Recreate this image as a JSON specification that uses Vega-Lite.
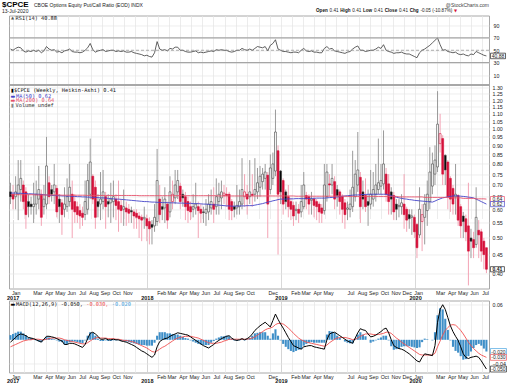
{
"$schema":"https://vega.github.io/schema/vega-lite/v6.json",
"background":"white",
"padding":{"left":1,"top":0.5,"right":0,"bottom":0},
"bounds":"flush",
"spacing":12,
"config":{"scale":{"continuousPadding":0},"view":{"stroke":"#a8a8a8","strokeWidth":1},"font":"Liberation Sans","axis":{"labelFont":"Liberation Sans","labelFontSize":5.3,"labelColor":"#222","domain":false,"ticks":false,"title":null,"gridColor":"#e6e6e6","gridWidth":0.7,"labelOverlap":false,"labelFlush":false}},
"datasets":{"w":[
{"date":"2016-12-26","open":0.67,"high":0.71,"low":0.62,"close":0.65,"rsi":52,"ma50":0.665,"ma200":0.658,"macd":-0.004,"signal":-0.012,"hist":0.008},
{"date":"2017-01-02","open":0.66,"high":0.70,"low":0.60,"close":0.64,"rsi":50,"ma50":0.665,"ma200":0.658,"macd":0.000,"signal":-0.010,"hist":0.010},
{"date":"2017-01-09","open":0.65,"high":0.74,"low":0.60,"close":0.67,"rsi":53,"ma50":0.665,"ma200":0.658,"macd":0.004,"signal":-0.008,"hist":0.012},
{"date":"2017-01-16","open":0.66,"high":0.82,"low":0.56,"close":0.70,"rsi":55,"ma50":0.664,"ma200":0.658,"macd":0.008,"signal":-0.006,"hist":0.014},
{"date":"2017-01-23","open":0.68,"high":0.82,"low":0.63,"close":0.73,"rsi":54,"ma50":0.664,"ma200":0.658,"macd":0.010,"signal":-0.004,"hist":0.014},
{"date":"2017-01-30","open":0.70,"high":0.72,"low":0.60,"close":0.63,"rsi":49,"ma50":0.663,"ma200":0.658,"macd":0.009,"signal":-0.002,"hist":0.011},
{"date":"2017-02-06","open":0.67,"high":0.69,"low":0.53,"close":0.58,"rsi":47,"ma50":0.663,"ma200":0.658,"macd":0.007,"signal":-0.001,"hist":0.008},
{"date":"2017-02-13","open":0.63,"high":0.66,"low":0.57,"close":0.61,"rsi":49,"ma50":0.662,"ma200":0.658,"macd":0.004,"signal":0.000,"hist":0.004},
{"date":"2017-02-20","open":0.62,"high":0.65,"low":0.58,"close":0.61,"rsi":48,"ma50":0.662,"ma200":0.658,"macd":0.003,"signal":0.000,"hist":0.003},
{"date":"2017-02-27","open":0.61,"high":0.71,"low":0.55,"close":0.62,"rsi":50,"ma50":0.661,"ma200":0.658,"macd":0.002,"signal":0.001,"hist":0.001},
{"date":"2017-03-06","open":0.62,"high":0.72,"low":0.58,"close":0.66,"rsi":48,"ma50":0.660,"ma200":0.657,"macd":0.000,"signal":0.001,"hist":-0.001},
{"date":"2017-03-13","open":0.64,"high":0.79,"low":0.60,"close":0.68,"rsi":50,"ma50":0.660,"ma200":0.657,"macd":-0.002,"signal":0.001,"hist":-0.003},
{"date":"2017-03-20","open":0.66,"high":0.68,"low":0.54,"close":0.57,"rsi":46,"ma50":0.659,"ma200":0.657,"macd":-0.004,"signal":0.000,"hist":-0.004},
{"date":"2017-03-27","open":0.61,"high":0.70,"low":0.58,"close":0.64,"rsi":49,"ma50":0.658,"ma200":0.657,"macd":0.001,"signal":0.000,"hist":0.001},
{"date":"2017-04-03","open":0.62,"high":0.95,"low":0.60,"close":0.79,"rsi":56,"ma50":0.657,"ma200":0.657,"macd":0.006,"signal":0.001,"hist":0.005},
{"date":"2017-04-10","open":0.71,"high":0.74,"low":0.62,"close":0.65,"rsi":52,"ma50":0.656,"ma200":0.657,"macd":0.006,"signal":0.002,"hist":0.004},
{"date":"2017-04-17","open":0.68,"high":0.70,"low":0.63,"close":0.66,"rsi":50,"ma50":0.655,"ma200":0.657,"macd":0.005,"signal":0.003,"hist":0.002},
{"date":"2017-04-24","open":0.67,"high":0.80,"low":0.62,"close":0.70,"rsi":51,"ma50":0.655,"ma200":0.657,"macd":0.004,"signal":0.003,"hist":0.001},
{"date":"2017-05-01","open":0.685,"high":0.70,"low":0.57,"close":0.59,"rsi":47,"ma50":0.654,"ma200":0.657,"macd":0.002,"signal":0.003,"hist":-0.001},
{"date":"2017-05-08","open":0.64,"high":0.66,"low":0.55,"close":0.61,"rsi":48,"ma50":0.654,"ma200":0.657,"macd":0.000,"signal":0.003,"hist":-0.003},
{"date":"2017-05-15","open":0.625,"high":0.64,"low":0.51,"close":0.58,"rsi":46,"ma50":0.653,"ma200":0.656,"macd":-0.002,"signal":0.002,"hist":-0.004},
{"date":"2017-05-22","open":0.60,"high":0.69,"low":0.57,"close":0.62,"rsi":49,"ma50":0.653,"ma200":0.656,"macd":-0.008,"signal":0.000,"hist":-0.008},
{"date":"2017-05-29","open":0.61,"high":0.73,"low":0.59,"close":0.65,"rsi":50,"ma50":0.652,"ma200":0.656,"macd":-0.008,"signal":-0.001,"hist":-0.007},
{"date":"2017-06-05","open":0.63,"high":0.80,"low":0.61,"close":0.69,"rsi":52,"ma50":0.652,"ma200":0.656,"macd":-0.006,"signal":-0.002,"hist":-0.004},
{"date":"2017-06-12","open":0.66,"high":0.72,"low":0.50,"close":0.60,"rsi":48,"ma50":0.651,"ma200":0.656,"macd":-0.006,"signal":-0.003,"hist":-0.003},
{"date":"2017-06-19","open":0.63,"high":0.66,"low":0.55,"close":0.59,"rsi":47,"ma50":0.651,"ma200":0.656,"macd":-0.007,"signal":-0.004,"hist":-0.003},
{"date":"2017-06-26","open":0.61,"high":0.63,"low":0.55,"close":0.58,"rsi":47,"ma50":0.650,"ma200":0.656,"macd":-0.009,"signal":-0.005,"hist":-0.004},
{"date":"2017-07-03","open":0.595,"high":0.62,"low":0.53,"close":0.575,"rsi":46,"ma50":0.650,"ma200":0.656,"macd":-0.011,"signal":-0.006,"hist":-0.005},
{"date":"2017-07-10","open":0.585,"high":0.61,"low":0.54,"close":0.57,"rsi":47,"ma50":0.649,"ma200":0.656,"macd":-0.013,"signal":-0.007,"hist":-0.006},
{"date":"2017-07-17","open":0.58,"high":0.72,"low":0.56,"close":0.63,"rsi":50,"ma50":0.649,"ma200":0.656,"macd":-0.008,"signal":-0.007,"hist":-0.001},
{"date":"2017-07-24","open":0.60,"high":0.80,"low":0.58,"close":0.72,"rsi":54,"ma50":0.648,"ma200":0.655,"macd":0.002,"signal":-0.005,"hist":0.007},
{"date":"2017-07-31","open":0.66,"high":0.94,"low":0.64,"close":0.81,"rsi":61,"ma50":0.648,"ma200":0.655,"macd":0.011,"signal":-0.002,"hist":0.013},
{"date":"2017-08-07","open":0.74,"high":0.75,"low":0.62,"close":0.64,"rsi":51,"ma50":0.647,"ma200":0.655,"macd":0.013,"signal":0.001,"hist":0.012},
{"date":"2017-08-14","open":0.69,"high":0.72,"low":0.53,"close":0.57,"rsi":47,"ma50":0.647,"ma200":0.655,"macd":0.010,"signal":0.003,"hist":0.007},
{"date":"2017-08-21","open":0.63,"high":0.66,"low":0.57,"close":0.61,"rsi":49,"ma50":0.646,"ma200":0.655,"macd":0.006,"signal":0.004,"hist":0.002},
{"date":"2017-08-28","open":0.62,"high":0.76,"low":0.56,"close":0.64,"rsi":50,"ma50":0.645,"ma200":0.655,"macd":0.001,"signal":0.003,"hist":-0.002},
{"date":"2017-09-04","open":0.63,"high":0.77,"low":0.60,"close":0.67,"rsi":51,"ma50":0.645,"ma200":0.655,"macd":0.001,"signal":0.003,"hist":-0.002},
{"date":"2017-09-11","open":0.65,"high":0.67,"low":0.53,"close":0.61,"rsi":48,"ma50":0.644,"ma200":0.655,"macd":0.002,"signal":0.003,"hist":-0.001},
{"date":"2017-09-18","open":0.63,"high":0.66,"low":0.57,"close":0.62,"rsi":49,"ma50":0.643,"ma200":0.655,"macd":0.000,"signal":0.002,"hist":-0.002},
{"date":"2017-09-25","open":0.625,"high":0.71,"low":0.55,"close":0.64,"rsi":50,"ma50":0.642,"ma200":0.655,"macd":0.000,"signal":0.002,"hist":-0.002},
{"date":"2017-10-02","open":0.63,"high":0.72,"low":0.57,"close":0.65,"rsi":50,"ma50":0.641,"ma200":0.655,"macd":0.001,"signal":0.002,"hist":-0.001},
{"date":"2017-10-09","open":0.64,"high":0.66,"low":0.56,"close":0.615,"rsi":48,"ma50":0.640,"ma200":0.655,"macd":0.000,"signal":0.001,"hist":-0.001},
{"date":"2017-10-16","open":0.63,"high":0.72,"low":0.52,"close":0.60,"rsi":49,"ma50":0.640,"ma200":0.655,"macd":0.000,"signal":0.001,"hist":-0.001},
{"date":"2017-10-23","open":0.615,"high":0.64,"low":0.55,"close":0.595,"rsi":48,"ma50":0.639,"ma200":0.655,"macd":-0.002,"signal":0.000,"hist":-0.002},
{"date":"2017-10-30","open":0.60,"high":0.68,"low":0.54,"close":0.61,"rsi":49,"ma50":0.638,"ma200":0.655,"macd":-0.003,"signal":-0.001,"hist":-0.002},
{"date":"2017-11-06","open":0.605,"high":0.63,"low":0.54,"close":0.59,"rsi":47,"ma50":0.637,"ma200":0.655,"macd":-0.004,"signal":-0.001,"hist":-0.003},
{"date":"2017-11-13","open":0.60,"high":0.62,"low":0.55,"close":0.585,"rsi":47,"ma50":0.636,"ma200":0.655,"macd":-0.006,"signal":-0.002,"hist":-0.004},
{"date":"2017-11-20","open":0.595,"high":0.61,"low":0.55,"close":0.59,"rsi":48,"ma50":0.635,"ma200":0.655,"macd":-0.008,"signal":-0.003,"hist":-0.005},
{"date":"2017-11-27","open":0.59,"high":0.60,"low":0.53,"close":0.575,"rsi":46,"ma50":0.634,"ma200":0.655,"macd":-0.010,"signal":-0.004,"hist":-0.006},
{"date":"2017-12-04","open":0.585,"high":0.60,"low":0.53,"close":0.57,"rsi":45,"ma50":0.633,"ma200":0.655,"macd":-0.013,"signal":-0.006,"hist":-0.007},
{"date":"2017-12-11","open":0.575,"high":0.59,"low":0.50,"close":0.565,"rsi":44,"ma50":0.632,"ma200":0.654,"macd":-0.016,"signal":-0.008,"hist":-0.008},
{"date":"2017-12-18","open":0.57,"high":0.58,"low":0.49,"close":0.56,"rsi":43,"ma50":0.631,"ma200":0.654,"macd":-0.019,"signal":-0.010,"hist":-0.009},
{"date":"2017-12-25","open":0.565,"high":0.61,"low":0.53,"close":0.57,"rsi":41,"ma50":0.630,"ma200":0.654,"macd":-0.021,"signal":-0.012,"hist":-0.009},
{"date":"2018-01-01","open":0.565,"high":0.58,"low":0.49,"close":0.54,"rsi":42,"ma50":0.630,"ma200":0.654,"macd":-0.024,"signal":-0.014,"hist":-0.010},
{"date":"2018-01-08","open":0.555,"high":0.57,"low":0.48,"close":0.53,"rsi":40,"ma50":0.629,"ma200":0.654,"macd":-0.027,"signal":-0.017,"hist":-0.010},
{"date":"2018-01-15","open":0.545,"high":0.56,"low":0.48,"close":0.535,"rsi":39,"ma50":0.628,"ma200":0.654,"macd":-0.030,"signal":-0.020,"hist":-0.010},
{"date":"2018-01-22","open":0.54,"high":0.62,"low":0.52,"close":0.57,"rsi":46,"ma50":0.628,"ma200":0.654,"macd":-0.026,"signal":-0.021,"hist":-0.005},
{"date":"2018-01-29","open":0.555,"high":0.88,"low":0.54,"close":0.72,"rsi":64,"ma50":0.627,"ma200":0.654,"macd":-0.012,"signal":-0.019,"hist":0.007},
{"date":"2018-02-05","open":0.64,"high":0.70,"low":0.55,"close":0.58,"rsi":52,"ma50":0.627,"ma200":0.654,"macd":-0.003,"signal":-0.016,"hist":0.013},
{"date":"2018-02-12","open":0.61,"high":0.65,"low":0.56,"close":0.60,"rsi":50,"ma50":0.626,"ma200":0.654,"macd":0.000,"signal":-0.013,"hist":0.013},
{"date":"2018-02-19","open":0.605,"high":0.69,"low":0.55,"close":0.64,"rsi":51,"ma50":0.626,"ma200":0.654,"macd":0.002,"signal":-0.011,"hist":0.013},
{"date":"2018-02-26","open":0.62,"high":0.63,"low":0.53,"close":0.56,"rsi":49,"ma50":0.626,"ma200":0.654,"macd":0.003,"signal":-0.008,"hist":0.011},
{"date":"2018-03-05","open":0.59,"high":0.74,"low":0.57,"close":0.67,"rsi":53,"ma50":0.625,"ma200":0.654,"macd":0.006,"signal":-0.005,"hist":0.011},
{"date":"2018-03-12","open":0.63,"high":0.72,"low":0.60,"close":0.66,"rsi":52,"ma50":0.625,"ma200":0.654,"macd":0.008,"signal":-0.002,"hist":0.010},
{"date":"2018-03-19","open":0.645,"high":0.77,"low":0.62,"close":0.70,"rsi":55,"ma50":0.625,"ma200":0.654,"macd":0.010,"signal":0.001,"hist":0.009},
{"date":"2018-03-26","open":0.67,"high":0.77,"low":0.64,"close":0.72,"rsi":55,"ma50":0.624,"ma200":0.654,"macd":0.012,"signal":0.003,"hist":0.009},
{"date":"2018-04-02","open":0.695,"high":0.71,"low":0.60,"close":0.63,"rsi":50,"ma50":0.624,"ma200":0.654,"macd":0.011,"signal":0.004,"hist":0.007},
{"date":"2018-04-09","open":0.66,"high":0.68,"low":0.61,"close":0.645,"rsi":50,"ma50":0.624,"ma200":0.654,"macd":0.010,"signal":0.005,"hist":0.005},
{"date":"2018-04-16","open":0.65,"high":0.67,"low":0.56,"close":0.61,"rsi":48,"ma50":0.623,"ma200":0.654,"macd":0.009,"signal":0.006,"hist":0.003},
{"date":"2018-04-23","open":0.63,"high":0.65,"low":0.55,"close":0.595,"rsi":47,"ma50":0.623,"ma200":0.654,"macd":0.008,"signal":0.006,"hist":0.002},
{"date":"2018-04-30","open":0.61,"high":0.63,"low":0.56,"close":0.59,"rsi":47,"ma50":0.623,"ma200":0.654,"macd":0.005,"signal":0.006,"hist":-0.001},
{"date":"2018-05-07","open":0.60,"high":0.66,"low":0.57,"close":0.61,"rsi":48,"ma50":0.622,"ma200":0.654,"macd":0.002,"signal":0.005,"hist":-0.003},
{"date":"2018-05-14","open":0.605,"high":0.71,"low":0.58,"close":0.62,"rsi":49,"ma50":0.622,"ma200":0.654,"macd":-0.001,"signal":0.004,"hist":-0.005},
{"date":"2018-05-21","open":0.61,"high":0.63,"low":0.50,"close":0.595,"rsi":46,"ma50":0.622,"ma200":0.654,"macd":-0.004,"signal":0.003,"hist":-0.007},
{"date":"2018-05-28","open":0.60,"high":0.62,"low":0.55,"close":0.585,"rsi":47,"ma50":0.621,"ma200":0.654,"macd":-0.007,"signal":0.001,"hist":-0.008},
{"date":"2018-06-04","open":0.59,"high":0.61,"low":0.55,"close":0.588,"rsi":46,"ma50":0.620,"ma200":0.654,"macd":-0.010,"signal":-0.001,"hist":-0.009},
{"date":"2018-06-11","open":0.585,"high":0.64,"low":0.54,"close":0.60,"rsi":47,"ma50":0.620,"ma200":0.654,"macd":-0.012,"signal":-0.003,"hist":-0.009},
{"date":"2018-06-18","open":0.59,"high":0.66,"low":0.56,"close":0.62,"rsi":48,"ma50":0.619,"ma200":0.654,"macd":-0.014,"signal":-0.005,"hist":-0.009},
{"date":"2018-06-25","open":0.605,"high":0.68,"low":0.58,"close":0.63,"rsi":49,"ma50":0.618,"ma200":0.654,"macd":-0.011,"signal":-0.006,"hist":-0.005},
{"date":"2018-07-02","open":0.62,"high":0.69,"low":0.55,"close":0.60,"rsi":48,"ma50":0.617,"ma200":0.654,"macd":-0.008,"signal":-0.006,"hist":-0.002},
{"date":"2018-07-09","open":0.61,"high":0.73,"low":0.58,"close":0.65,"rsi":51,"ma50":0.617,"ma200":0.654,"macd":-0.004,"signal":-0.006,"hist":0.002},
{"date":"2018-07-16","open":0.63,"high":0.71,"low":0.58,"close":0.66,"rsi":50,"ma50":0.616,"ma200":0.653,"macd":-0.001,"signal":-0.005,"hist":0.004},
{"date":"2018-07-23","open":0.645,"high":0.72,"low":0.60,"close":0.67,"rsi":51,"ma50":0.615,"ma200":0.653,"macd":0.002,"signal":-0.004,"hist":0.006},
{"date":"2018-07-30","open":0.655,"high":0.70,"low":0.62,"close":0.665,"rsi":50,"ma50":0.614,"ma200":0.653,"macd":0.004,"signal":-0.002,"hist":0.006},
{"date":"2018-08-06","open":0.66,"high":0.69,"low":0.61,"close":0.655,"rsi":50,"ma50":0.613,"ma200":0.653,"macd":0.006,"signal":-0.001,"hist":0.007},
{"date":"2018-08-13","open":0.66,"high":0.67,"low":0.56,"close":0.60,"rsi":48,"ma50":0.613,"ma200":0.653,"macd":0.007,"signal":0.001,"hist":0.006},
{"date":"2018-08-20","open":0.63,"high":0.64,"low":0.56,"close":0.595,"rsi":47,"ma50":0.612,"ma200":0.653,"macd":0.003,"signal":0.001,"hist":0.002},
{"date":"2018-08-27","open":0.61,"high":0.63,"low":0.57,"close":0.60,"rsi":48,"ma50":0.612,"ma200":0.653,"macd":0.000,"signal":0.001,"hist":-0.001},
{"date":"2018-09-03","open":0.605,"high":0.70,"low":0.58,"close":0.615,"rsi":50,"ma50":0.612,"ma200":0.653,"macd":-0.001,"signal":0.001,"hist":-0.002},
{"date":"2018-09-10","open":0.61,"high":0.68,"low":0.58,"close":0.63,"rsi":50,"ma50":0.613,"ma200":0.653,"macd":0.000,"signal":0.001,"hist":-0.001},
{"date":"2018-09-17","open":0.62,"high":0.83,"low":0.60,"close":0.68,"rsi":53,"ma50":0.613,"ma200":0.653,"macd":0.002,"signal":0.001,"hist":0.001},
{"date":"2018-09-24","open":0.65,"high":0.75,"low":0.61,"close":0.67,"rsi":51,"ma50":0.613,"ma200":0.653,"macd":0.000,"signal":0.001,"hist":-0.001},
{"date":"2018-10-01","open":0.66,"high":0.70,"low":0.58,"close":0.64,"rsi":50,"ma50":0.614,"ma200":0.653,"macd":0.002,"signal":0.001,"hist":0.001},
{"date":"2018-10-08","open":0.65,"high":0.82,"low":0.62,"close":0.67,"rsi":52,"ma50":0.614,"ma200":0.653,"macd":0.005,"signal":0.002,"hist":0.003},
{"date":"2018-10-15","open":0.66,"high":0.75,"low":0.61,"close":0.655,"rsi":50,"ma50":0.614,"ma200":0.653,"macd":0.010,"signal":0.003,"hist":0.007},
{"date":"2018-10-22","open":0.66,"high":0.83,"low":0.63,"close":0.68,"rsi":53,"ma50":0.616,"ma200":0.653,"macd":0.016,"signal":0.005,"hist":0.011},
{"date":"2018-10-29","open":0.67,"high":0.78,"low":0.64,"close":0.71,"rsi":56,"ma50":0.618,"ma200":0.653,"macd":0.020,"signal":0.008,"hist":0.012},
{"date":"2018-11-05","open":0.69,"high":0.79,"low":0.65,"close":0.74,"rsi":55,"ma50":0.620,"ma200":0.653,"macd":0.024,"signal":0.011,"hist":0.013},
{"date":"2018-11-12","open":0.715,"high":0.78,"low":0.68,"close":0.75,"rsi":54,"ma50":0.622,"ma200":0.653,"macd":0.027,"signal":0.014,"hist":0.013},
{"date":"2018-11-19","open":0.73,"high":0.80,"low":0.68,"close":0.76,"rsi":56,"ma50":0.625,"ma200":0.653,"macd":0.030,"signal":0.017,"hist":0.013},
{"date":"2018-11-26","open":0.745,"high":0.76,"low":0.50,"close":0.62,"rsi":49,"ma50":0.628,"ma200":0.653,"macd":0.026,"signal":0.019,"hist":0.007},
{"date":"2018-12-03","open":0.68,"high":0.85,"low":0.66,"close":0.78,"rsi":58,"ma50":0.630,"ma200":0.653,"macd":0.022,"signal":0.020,"hist":0.002},
{"date":"2018-12-10","open":0.73,"high":0.86,"low":0.70,"close":0.80,"rsi":61,"ma50":0.633,"ma200":0.653,"macd":0.033,"signal":0.022,"hist":0.011},
{"date":"2018-12-17","open":0.765,"high":1.13,"low":0.74,"close":0.98,"rsi":67,"ma50":0.635,"ma200":0.653,"macd":0.044,"signal":0.026,"hist":0.018},
{"date":"2018-12-24","open":0.87,"high":0.90,"low":0.45,"close":0.66,"rsi":52,"ma50":0.638,"ma200":0.653,"macd":0.035,"signal":0.028,"hist":0.007},
{"date":"2018-12-31","open":0.765,"high":0.77,"low":0.62,"close":0.67,"rsi":50,"ma50":0.640,"ma200":0.653,"macd":0.027,"signal":0.028,"hist":-0.001},
{"date":"2019-01-07","open":0.72,"high":0.73,"low":0.58,"close":0.62,"rsi":48,"ma50":0.640,"ma200":0.653,"macd":0.020,"signal":0.027,"hist":-0.007},
{"date":"2019-01-14","open":0.67,"high":0.68,"low":0.60,"close":0.63,"rsi":48,"ma50":0.640,"ma200":0.653,"macd":0.012,"signal":0.024,"hist":-0.012},
{"date":"2019-01-21","open":0.65,"high":0.70,"low":0.57,"close":0.61,"rsi":47,"ma50":0.641,"ma200":0.653,"macd":0.004,"signal":0.020,"hist":-0.016},
{"date":"2019-01-28","open":0.63,"high":0.645,"low":0.56,"close":0.60,"rsi":46,"ma50":0.641,"ma200":0.653,"macd":-0.003,"signal":0.016,"hist":-0.019},
{"date":"2019-02-04","open":0.615,"high":0.63,"low":0.54,"close":0.575,"rsi":47,"ma50":0.641,"ma200":0.653,"macd":-0.010,"signal":0.011,"hist":-0.021},
{"date":"2019-02-11","open":0.595,"high":0.63,"low":0.56,"close":0.60,"rsi":47,"ma50":0.642,"ma200":0.652,"macd":-0.012,"signal":0.007,"hist":-0.019},
{"date":"2019-02-18","open":0.60,"high":0.62,"low":0.55,"close":0.585,"rsi":46,"ma50":0.642,"ma200":0.652,"macd":-0.014,"signal":0.003,"hist":-0.017},
{"date":"2019-02-25","open":0.59,"high":0.70,"low":0.57,"close":0.63,"rsi":50,"ma50":0.642,"ma200":0.652,"macd":-0.016,"signal":0.000,"hist":-0.016},
{"date":"2019-03-04","open":0.61,"high":0.76,"low":0.60,"close":0.70,"rsi":53,"ma50":0.642,"ma200":0.652,"macd":-0.012,"signal":-0.002,"hist":-0.010},
{"date":"2019-03-11","open":0.655,"high":0.67,"low":0.60,"close":0.64,"rsi":49,"ma50":0.643,"ma200":0.652,"macd":-0.011,"signal":-0.004,"hist":-0.007},
{"date":"2019-03-18","open":0.65,"high":0.66,"low":0.58,"close":0.62,"rsi":48,"ma50":0.643,"ma200":0.652,"macd":-0.010,"signal":-0.005,"hist":-0.005},
{"date":"2019-03-25","open":0.635,"high":0.67,"low":0.58,"close":0.64,"rsi":49,"ma50":0.643,"ma200":0.652,"macd":-0.010,"signal":-0.006,"hist":-0.004},
{"date":"2019-04-01","open":0.64,"high":0.65,"low":0.57,"close":0.615,"rsi":47,"ma50":0.643,"ma200":0.652,"macd":-0.012,"signal":-0.007,"hist":-0.005},
{"date":"2019-04-08","open":0.63,"high":0.64,"low":0.56,"close":0.61,"rsi":47,"ma50":0.644,"ma200":0.652,"macd":-0.013,"signal":-0.008,"hist":-0.005},
{"date":"2019-04-15","open":0.62,"high":0.63,"low":0.55,"close":0.59,"rsi":46,"ma50":0.644,"ma200":0.652,"macd":-0.014,"signal":-0.009,"hist":-0.005},
{"date":"2019-04-22","open":0.605,"high":0.62,"low":0.55,"close":0.585,"rsi":46,"ma50":0.644,"ma200":0.652,"macd":-0.015,"signal":-0.010,"hist":-0.005},
{"date":"2019-04-29","open":0.595,"high":0.80,"low":0.58,"close":0.70,"rsi":53,"ma50":0.644,"ma200":0.652,"macd":-0.016,"signal":-0.011,"hist":-0.005},
{"date":"2019-05-06","open":0.65,"high":0.80,"low":0.63,"close":0.76,"rsi":56,"ma50":0.645,"ma200":0.652,"macd":0.000,"signal":-0.009,"hist":0.009},
{"date":"2019-05-13","open":0.705,"high":0.75,"low":0.65,"close":0.70,"rsi":52,"ma50":0.646,"ma200":0.652,"macd":0.010,"signal":-0.005,"hist":0.015},
{"date":"2019-05-20","open":0.70,"high":0.80,"low":0.66,"close":0.73,"rsi":53,"ma50":0.647,"ma200":0.652,"macd":0.012,"signal":-0.002,"hist":0.014},
{"date":"2019-05-27","open":0.715,"high":0.74,"low":0.60,"close":0.64,"rsi":49,"ma50":0.648,"ma200":0.652,"macd":0.013,"signal":0.001,"hist":0.012},
{"date":"2019-06-03","open":0.68,"high":0.70,"low":0.61,"close":0.655,"rsi":48,"ma50":0.649,"ma200":0.652,"macd":0.010,"signal":0.003,"hist":0.007},
{"date":"2019-06-10","open":0.67,"high":0.68,"low":0.58,"close":0.63,"rsi":47,"ma50":0.650,"ma200":0.652,"macd":0.007,"signal":0.004,"hist":0.003},
{"date":"2019-06-17","open":0.65,"high":0.66,"low":0.55,"close":0.60,"rsi":46,"ma50":0.652,"ma200":0.652,"macd":0.004,"signal":0.004,"hist":0.000},
{"date":"2019-06-24","open":0.625,"high":0.64,"low":0.53,"close":0.58,"rsi":45,"ma50":0.653,"ma200":0.652,"macd":0.001,"signal":0.004,"hist":-0.003},
{"date":"2019-07-01","open":0.60,"high":0.63,"low":0.56,"close":0.605,"rsi":47,"ma50":0.654,"ma200":0.651,"macd":-0.002,"signal":0.003,"hist":-0.005},
{"date":"2019-07-08","open":0.60,"high":0.68,"low":0.57,"close":0.62,"rsi":48,"ma50":0.655,"ma200":0.651,"macd":-0.004,"signal":0.002,"hist":-0.006},
{"date":"2019-07-15","open":0.61,"high":0.87,"low":0.59,"close":0.69,"rsi":52,"ma50":0.656,"ma200":0.651,"macd":-0.006,"signal":0.000,"hist":-0.006},
{"date":"2019-07-22","open":0.65,"high":0.82,"low":0.63,"close":0.75,"rsi":55,"ma50":0.657,"ma200":0.651,"macd":0.003,"signal":0.001,"hist":0.002},
{"date":"2019-07-29","open":0.70,"high":0.98,"low":0.67,"close":0.77,"rsi":57,"ma50":0.657,"ma200":0.651,"macd":0.012,"signal":0.003,"hist":0.009},
{"date":"2019-08-05","open":0.735,"high":0.76,"low":0.55,"close":0.61,"rsi":50,"ma50":0.658,"ma200":0.651,"macd":0.019,"signal":0.006,"hist":0.013},
{"date":"2019-08-12","open":0.67,"high":0.72,"low":0.60,"close":0.64,"rsi":50,"ma50":0.659,"ma200":0.651,"macd":0.017,"signal":0.008,"hist":0.009},
{"date":"2019-08-19","open":0.655,"high":0.73,"low":0.59,"close":0.61,"rsi":48,"ma50":0.659,"ma200":0.651,"macd":0.016,"signal":0.010,"hist":0.006},
{"date":"2019-08-26","open":0.63,"high":0.68,"low":0.54,"close":0.615,"rsi":49,"ma50":0.660,"ma200":0.651,"macd":0.010,"signal":0.010,"hist":0.000},
{"date":"2019-09-02","open":0.62,"high":0.77,"low":0.60,"close":0.66,"rsi":50,"ma50":0.660,"ma200":0.651,"macd":0.005,"signal":0.010,"hist":-0.005},
{"date":"2019-09-09","open":0.64,"high":0.76,"low":0.61,"close":0.68,"rsi":50,"ma50":0.660,"ma200":0.651,"macd":0.006,"signal":0.009,"hist":-0.003},
{"date":"2019-09-16","open":0.66,"high":0.80,"low":0.63,"close":0.70,"rsi":52,"ma50":0.660,"ma200":0.651,"macd":0.008,"signal":0.009,"hist":-0.001},
{"date":"2019-09-23","open":0.68,"high":0.94,"low":0.66,"close":0.71,"rsi":55,"ma50":0.660,"ma200":0.651,"macd":0.011,"signal":0.009,"hist":0.002},
{"date":"2019-09-30","open":0.695,"high":0.80,"low":0.66,"close":0.72,"rsi":53,"ma50":0.660,"ma200":0.651,"macd":0.014,"signal":0.010,"hist":0.004},
{"date":"2019-10-07","open":0.705,"high":0.99,"low":0.68,"close":0.80,"rsi":59,"ma50":0.660,"ma200":0.651,"macd":0.018,"signal":0.011,"hist":0.007},
{"date":"2019-10-14","open":0.75,"high":0.78,"low":0.63,"close":0.66,"rsi":50,"ma50":0.660,"ma200":0.651,"macd":0.020,"signal":0.013,"hist":0.007},
{"date":"2019-10-21","open":0.705,"high":0.75,"low":0.58,"close":0.63,"rsi":48,"ma50":0.657,"ma200":0.651,"macd":0.012,"signal":0.013,"hist":-0.001},
{"date":"2019-10-28","open":0.67,"high":0.69,"low":0.58,"close":0.64,"rsi":47,"ma50":0.654,"ma200":0.651,"macd":0.000,"signal":0.011,"hist":-0.011},
{"date":"2019-11-04","open":0.655,"high":0.67,"low":0.56,"close":0.59,"rsi":45,"ma50":0.651,"ma200":0.651,"macd":-0.010,"signal":0.007,"hist":-0.017},
{"date":"2019-11-11","open":0.62,"high":0.64,"low":0.56,"close":0.60,"rsi":46,"ma50":0.648,"ma200":0.651,"macd":-0.013,"signal":0.003,"hist":-0.016},
{"date":"2019-11-18","open":0.61,"high":0.64,"low":0.57,"close":0.615,"rsi":46,"ma50":0.645,"ma200":0.649,"macd":-0.015,"signal":0.000,"hist":-0.015},
{"date":"2019-11-25","open":0.61,"high":0.66,"low":0.58,"close":0.625,"rsi":47,"ma50":0.643,"ma200":0.649,"macd":-0.016,"signal":-0.004,"hist":-0.012},
{"date":"2019-12-02","open":0.62,"high":0.75,"low":0.53,"close":0.58,"rsi":45,"ma50":0.641,"ma200":0.649,"macd":-0.018,"signal":-0.007,"hist":-0.011},
{"date":"2019-12-09","open":0.60,"high":0.61,"low":0.52,"close":0.56,"rsi":44,"ma50":0.640,"ma200":0.649,"macd":-0.021,"signal":-0.010,"hist":-0.011},
{"date":"2019-12-16","open":0.58,"high":0.60,"low":0.53,"close":0.565,"rsi":44,"ma50":0.638,"ma200":0.649,"macd":-0.024,"signal":-0.013,"hist":-0.011},
{"date":"2019-12-23","open":0.57,"high":0.60,"low":0.51,"close":0.575,"rsi":42,"ma50":0.637,"ma200":0.649,"macd":-0.028,"signal":-0.016,"hist":-0.012},
{"date":"2019-12-30","open":0.57,"high":0.58,"low":0.50,"close":0.52,"rsi":40,"ma50":0.635,"ma200":0.649,"macd":-0.032,"signal":-0.019,"hist":-0.013},
{"date":"2020-01-06","open":0.545,"high":0.55,"low":0.44,"close":0.47,"rsi":38,"ma50":0.634,"ma200":0.649,"macd":-0.036,"signal":-0.022,"hist":-0.014},
{"date":"2020-01-13","open":0.51,"high":0.69,"low":0.50,"close":0.60,"rsi":46,"ma50":0.633,"ma200":0.649,"macd":-0.038,"signal":-0.025,"hist":-0.013},
{"date":"2020-01-20","open":0.555,"high":0.62,"low":0.46,"close":0.58,"rsi":50,"ma50":0.632,"ma200":0.649,"macd":-0.030,"signal":-0.026,"hist":-0.004},
{"date":"2020-01-27","open":0.57,"high":0.66,"low":0.48,"close":0.62,"rsi":52,"ma50":0.631,"ma200":0.647,"macd":-0.024,"signal":-0.026,"hist":0.002},
{"date":"2020-02-03","open":0.595,"high":0.72,"low":0.54,"close":0.66,"rsi":55,"ma50":0.630,"ma200":0.647,"macd":-0.025,"signal":-0.026,"hist":0.001},
{"date":"2020-02-10","open":0.63,"high":0.89,"low":0.60,"close":0.76,"rsi":58,"ma50":0.629,"ma200":0.647,"macd":-0.026,"signal":-0.026,"hist":0.000},
{"date":"2020-02-17","open":0.695,"high":0.86,"low":0.66,"close":0.80,"rsi":62,"ma50":0.628,"ma200":0.647,"macd":-0.027,"signal":-0.026,"hist":-0.001},
{"date":"2020-02-24","open":0.75,"high":0.90,"low":0.70,"close":0.82,"rsi":66,"ma50":0.632,"ma200":0.647,"macd":-0.010,"signal":-0.023,"hist":0.013},
{"date":"2020-03-02","open":0.785,"high":1.27,"low":0.76,"close":1.03,"rsi":70,"ma50":0.637,"ma200":0.647,"macd":0.030,"signal":-0.012,"hist":0.042},
{"date":"2020-03-09","open":0.91,"high":1.10,"low":0.86,"close":0.97,"rsi":59,"ma50":0.641,"ma200":0.647,"macd":0.052,"signal":-0.002,"hist":0.054},
{"date":"2020-03-16","open":0.94,"high":0.96,"low":0.70,"close":0.75,"rsi":50,"ma50":0.645,"ma200":0.647,"macd":0.060,"signal":0.008,"hist":0.052},
{"date":"2020-03-23","open":0.845,"high":0.85,"low":0.70,"close":0.77,"rsi":51,"ma50":0.647,"ma200":0.647,"macd":0.052,"signal":0.016,"hist":0.036},
{"date":"2020-03-30","open":0.81,"high":0.82,"low":0.60,"close":0.65,"rsi":48,"ma50":0.649,"ma200":0.647,"macd":0.038,"signal":0.021,"hist":0.017},
{"date":"2020-04-06","open":0.73,"high":0.74,"low":0.59,"close":0.64,"rsi":47,"ma50":0.651,"ma200":0.645,"macd":0.024,"signal":0.025,"hist":-0.001},
{"date":"2020-04-13","open":0.685,"high":0.70,"low":0.58,"close":0.62,"rsi":46,"ma50":0.653,"ma200":0.645,"macd":0.014,"signal":0.026,"hist":-0.012},
{"date":"2020-04-20","open":0.65,"high":0.80,"low":0.58,"close":0.66,"rsi":47,"ma50":0.654,"ma200":0.645,"macd":0.006,"signal":0.025,"hist":-0.019},
{"date":"2020-04-27","open":0.655,"high":0.66,"low":0.54,"close":0.56,"rsi":44,"ma50":0.653,"ma200":0.645,"macd":-0.001,"signal":0.021,"hist":-0.022},
{"date":"2020-05-04","open":0.61,"high":0.62,"low":0.50,"close":0.54,"rsi":43,"ma50":0.652,"ma200":0.645,"macd":-0.012,"signal":0.016,"hist":-0.028},
{"date":"2020-05-11","open":0.575,"high":0.59,"low":0.50,"close":0.555,"rsi":44,"ma50":0.651,"ma200":0.643,"macd":-0.024,"signal":0.010,"hist":-0.034},
{"date":"2020-05-18","open":0.565,"high":0.58,"low":0.49,"close":0.52,"rsi":42,"ma50":0.650,"ma200":0.643,"macd":-0.030,"signal":0.003,"hist":-0.033},
{"date":"2020-05-25","open":0.54,"high":0.71,"low":0.37,"close":0.46,"rsi":41,"ma50":0.648,"ma200":0.643,"macd":-0.032,"signal":-0.004,"hist":-0.028},
{"date":"2020-06-01","open":0.50,"high":0.53,"low":0.44,"close":0.49,"rsi":44,"ma50":0.647,"ma200":0.643,"macd":-0.030,"signal":-0.010,"hist":-0.020},
{"date":"2020-06-08","open":0.495,"high":0.52,"low":0.44,"close":0.47,"rsi":43,"ma50":0.645,"ma200":0.643,"macd":-0.029,"signal":-0.015,"hist":-0.014},
{"date":"2020-06-15","open":0.48,"high":0.69,"low":0.47,"close":0.57,"rsi":48,"ma50":0.640,"ma200":0.641,"macd":-0.028,"signal":-0.019,"hist":-0.009},
{"date":"2020-06-22","open":0.525,"high":0.56,"low":0.44,"close":0.51,"rsi":46,"ma50":0.635,"ma200":0.641,"macd":-0.030,"signal":-0.023,"hist":-0.007},
{"date":"2020-06-29","open":0.52,"high":0.53,"low":0.43,"close":0.46,"rsi":44,"ma50":0.630,"ma200":0.641,"macd":-0.036,"signal":-0.026,"hist":-0.010},
{"date":"2020-07-06","open":0.49,"high":0.50,"low":0.41,"close":0.45,"rsi":42,"ma50":0.625,"ma200":0.641,"macd":-0.043,"signal":-0.028,"hist":-0.015},
{"date":"2020-07-13","open":0.47,"high":0.47,"low":0.40,"close":0.41,"rsi":40.88,"ma50":0.620,"ma200":0.640,"macd":-0.050,"signal":-0.030,"hist":-0.020}
]},
"vconcat":[
{
"width":480,"height":273,
"data":{"name":"w"},
"transform":[{"window":[{"op":"lag","field":"close","as":"prev"}],"sort":[{"field":"date","order":"ascending"}]}],
"resolve":{"scale":{"y":"independent"},"axis":{"x":"independent","y":"independent"}},
"layer":[
{"layer":[
 {"mark":{"type":"line","color":"#3a3a3a","strokeWidth":0.8},
  "encoding":{
   "x":{"field":"date","type":"temporal","scale":{"type":"utc","nice":false,"padding":0,"domain":[1482364800000,1595203200000]},
        "axis":{"orient":"bottom","tickCount":{"interval":"year","step":1},"grid":true,"gridColor":"#cfcfcf","gridWidth":0.8,"labelExpr":"utcFormat(datum.value, '%Y')","labelFontWeight":"bold","labelFontSize":5.5,"labelPadding":6.5,"labelColor":"#111"}},
   "y":{"field":"rsi","type":"quantitative","scale":{"domain":[-5.2,106.1],"range":[69,0],"nice":false,"zero":false},
        "axis":{"orient":"right","values":[10,30,50,70,90],"grid":true,"labelPadding":4}}}},
 {"data":{"values":[{"level":70},{"level":30}]},"mark":{"type":"rule","color":"#a6a6a6","strokeWidth":1.3},"encoding":{"y":{"field":"level","type":"quantitative"}}},
 {"data":{"values":[{"level":50}]},"mark":{"type":"rule","color":"#8a8a8a","strokeWidth":0.7,"strokeDash":[3,2]},"encoding":{"y":{"field":"level","type":"quantitative"}}},
 {"data":{"values":[{}]},"mark":{"type":"rule","color":"#a8a8a8","strokeWidth":1},"encoding":{"y":{"datum":-5.2}}},
 {"data":{"values":[{}]},"mark":{"type":"text","text":"$CPCE","align":"left","baseline":"middle","font":"Liberation Sans","fontSize":8,"fontWeight":"bold","color":"#000","dx":-7},"encoding":{"x":{"datum":1482364800000,"type":"temporal"},"y":{"datum":122.5}}},
 {"data":{"values":[{}]},"mark":{"type":"text","text":"CBOE Options Equity Put/Call Ratio (EOD) INDX","align":"left","baseline":"middle","font":"Liberation Sans","fontSize":5,"color":"#222","dx":25},"encoding":{"x":{"datum":1482364800000,"type":"temporal"},"y":{"datum":122.5}}},
 {"data":{"values":[{}]},"mark":{"type":"text","text":"13-Jul-2020","align":"left","baseline":"middle","font":"Liberation Sans","fontSize":5,"color":"#222","dx":-7},"encoding":{"x":{"datum":1482364800000,"type":"temporal"},"y":{"datum":112.6}}},
 {"data":{"values":[{}]},"mark":{"type":"text","text":"@StockCharts.com","align":"right","baseline":"middle","font":"Liberation Sans","fontSize":5,"color":"#444"},"encoding":{"x":{"datum":1595203200000,"type":"temporal"},"y":{"datum":123}}},
 {"data":{"values":[{}]},"mark":{"type":"text","text":"Open","align":"left","baseline":"middle","font":"Liberation Sans","fontSize":4.6,"fontWeight":"bold","color":"#111","dx":307},"encoding":{"x":{"datum":1482364800000,"type":"temporal"},"y":{"datum":112.6}}},
 {"data":{"values":[{}]},"mark":{"type":"text","text":"0.41","align":"left","baseline":"middle","font":"Liberation Sans","fontSize":4.6,"color":"#222","dx":320.6},"encoding":{"x":{"datum":1482364800000,"type":"temporal"},"y":{"datum":112.6}}},
 {"data":{"values":[{}]},"mark":{"type":"text","text":"High","align":"left","baseline":"middle","font":"Liberation Sans","fontSize":4.6,"fontWeight":"bold","color":"#111","dx":331.3},"encoding":{"x":{"datum":1482364800000,"type":"temporal"},"y":{"datum":112.6}}},
 {"data":{"values":[{}]},"mark":{"type":"text","text":"0.41","align":"left","baseline":"middle","font":"Liberation Sans","fontSize":4.6,"color":"#222","dx":343.3},"encoding":{"x":{"datum":1482364800000,"type":"temporal"},"y":{"datum":112.6}}},
 {"data":{"values":[{}]},"mark":{"type":"text","text":"Low","align":"left","baseline":"middle","font":"Liberation Sans","fontSize":4.6,"fontWeight":"bold","color":"#111","dx":354},"encoding":{"x":{"datum":1482364800000,"type":"temporal"},"y":{"datum":112.6}}},
 {"data":{"values":[{}]},"mark":{"type":"text","text":"0.41","align":"left","baseline":"middle","font":"Liberation Sans","fontSize":4.6,"color":"#222","dx":365},"encoding":{"x":{"datum":1482364800000,"type":"temporal"},"y":{"datum":112.6}}},
 {"data":{"values":[{}]},"mark":{"type":"text","text":"Close","align":"left","baseline":"middle","font":"Liberation Sans","fontSize":4.6,"fontWeight":"bold","color":"#111","dx":375.7},"encoding":{"x":{"datum":1482364800000,"type":"temporal"},"y":{"datum":112.6}}},
 {"data":{"values":[{}]},"mark":{"type":"text","text":"0.41","align":"left","baseline":"middle","font":"Liberation Sans","fontSize":4.6,"color":"#222","dx":390},"encoding":{"x":{"datum":1482364800000,"type":"temporal"},"y":{"datum":112.6}}},
 {"data":{"values":[{}]},"mark":{"type":"text","text":"Chg","align":"left","baseline":"middle","font":"Liberation Sans","fontSize":4.6,"fontWeight":"bold","color":"#111","dx":400.7},"encoding":{"x":{"datum":1482364800000,"type":"temporal"},"y":{"datum":112.6}}},
 {"data":{"values":[{}]},"mark":{"type":"text","text":"-0.05 (-10.87%)","align":"left","baseline":"middle","font":"Liberation Sans","fontSize":4.6,"color":"#222","dx":411.4},"encoding":{"x":{"datum":1482364800000,"type":"temporal"},"y":{"datum":112.6}}},
 {"data":{"values":[{}]},"mark":{"type":"text","text":"▼","align":"left","baseline":"middle","font":"DejaVu Sans","fontSize":4,"color":"#d5113a","dx":445},"encoding":{"x":{"datum":1482364800000,"type":"temporal"},"y":{"datum":112.6}}},
 {"data":{"values":[{}]},"mark":{"type":"text","text":"▲","align":"left","baseline":"middle","font":"DejaVu Sans","fontSize":4,"color":"#555","dx":2},"encoding":{"x":{"datum":1482364800000,"type":"temporal"},"y":{"datum":102.1}}},
 {"data":{"values":[{}]},"mark":{"type":"text","text":"RSI(14) 40.88","align":"left","baseline":"middle","font":"DejaVu Sans Mono","fontSize":5.3,"color":"#222","dx":6.5},"encoding":{"x":{"datum":1482364800000,"type":"temporal"},"y":{"datum":102.1}}},
 {"data":{"values":[{}]},"mark":{"type":"point","shape":"M-1,-0.37H1V0.37H-1Z","size":225,"filled":true,"fill":"white","stroke":"#222","strokeWidth":0.7,"opacity":1,"xOffset":11.6},"encoding":{"x":{"datum":1594598400000,"type":"temporal"},"y":{"datum":40.88}}},
 {"data":{"values":[{}]},"mark":{"type":"text","text":"40.88","align":"center","baseline":"middle","font":"Liberation Sans","fontSize":5,"color":"#222","dx":11.6},"encoding":{"x":{"datum":1594598400000,"type":"temporal"},"y":{"datum":40.88}}}
]},
{"layer":[
 {"mark":{"type":"rule","strokeWidth":0.9},
  "encoding":{
   "x":{"field":"date","type":"temporal","scale":{"type":"utc","nice":false,"padding":0,"domain":[1482364800000,1595203200000]},
        "axis":{"orient":"bottom","tickCount":{"interval":"month","step":1},"grid":true,"gridColor":"#e4e4e4","gridWidth":0.7,"labelExpr":"indexof(['2017-02','2017-12','2018-01','2018-11','2019-01','2019-06','2020-02'], utcFormat(datum.value, '%Y-%m')) >= 0 ? '' : utcFormat(datum.value, '%b')","labelPadding":1.5,"labelOffset":3}},
   "y":{"field":"low","type":"quantitative","scale":{"type":"log","domain":[0.3628,1.3166],"range":[273,70],"nice":false},
        "axis":{"orient":"right","values":[0.4,0.45,0.5,0.55,0.6,0.65,0.7,0.75,0.8,0.85,0.9,0.95,1.0,1.05,1.1,1.15,1.2,1.25,1.3],"format":".2f","grid":true,"labelPadding":3}},
   "y2":{"field":"high"},
   "color":{"condition":{"test":"datum.prev == null || datum.close >= datum.prev","value":"#8f8f8f"},"value":"#f29aad"}}},
 {"mark":{"type":"bar","width":1.9,"strokeWidth":0.6},
  "encoding":{
   "x":{"field":"date","type":"temporal"},
   "y":{"field":"open","type":"quantitative"},
   "y2":{"field":"close"},
   "fill":{"condition":[{"test":"datum.close > datum.open","value":"#ffffff"},{"test":"datum.prev == null || datum.close >= datum.prev","value":"#000000"}],"value":"#d5113a"},
   "stroke":{"condition":{"test":"datum.prev == null || datum.close >= datum.prev","value":"#444444"},"value":"#d5113a"}}},
 {"mark":{"type":"line","color":"#4545c8","strokeWidth":0.9},"encoding":{"x":{"field":"date","type":"temporal"},"y":{"field":"ma50","type":"quantitative"}}},
 {"mark":{"type":"line","color":"#e5506a","strokeWidth":0.9},"encoding":{"x":{"field":"date","type":"temporal"},"y":{"field":"ma200","type":"quantitative"}}},
 {"data":{"values":[{}]},"mark":{"type":"rule","color":"#a8a8a8","strokeWidth":1},"encoding":{"y":{"datum":1.3166}}},
 {"data":{"values":[{}]},"mark":{"type":"text","text":"▮","align":"left","baseline":"middle","font":"DejaVu Sans","fontSize":5,"color":"#000","dx":2},"encoding":{"x":{"datum":1482364800000,"type":"temporal"},"y":{"datum":1.2755}}},
 {"data":{"values":[{}]},"mark":{"type":"text","text":"$CPCE (Weekly, Heikin-Ashi) 0.41","align":"left","baseline":"middle","font":"DejaVu Sans Mono","fontSize":5.3,"color":"#111","dx":5},"encoding":{"x":{"datum":1482364800000,"type":"temporal"},"y":{"datum":1.2755}}},
 {"data":{"values":[{}]},"mark":{"type":"text","text":"▬","align":"left","baseline":"middle","font":"DejaVu Sans","fontSize":5,"color":"#4545c8","dx":1.5},"encoding":{"x":{"datum":1482364800000,"type":"temporal"},"y":{"datum":1.2356}}},
 {"data":{"values":[{}]},"mark":{"type":"text","text":"MA(50) 0.62","align":"left","baseline":"middle","font":"DejaVu Sans Mono","fontSize":5.3,"color":"#4545c8","dx":7},"encoding":{"x":{"datum":1482364800000,"type":"temporal"},"y":{"datum":1.2356}}},
 {"data":{"values":[{}]},"mark":{"type":"text","text":"▬","align":"left","baseline":"middle","font":"DejaVu Sans","fontSize":5,"color":"#e5506a","dx":1.5},"encoding":{"x":{"datum":1482364800000,"type":"temporal"},"y":{"datum":1.197}}},
 {"data":{"values":[{}]},"mark":{"type":"text","text":"MA(200) 0.64","align":"left","baseline":"middle","font":"DejaVu Sans Mono","fontSize":5.3,"color":"#e5506a","dx":7},"encoding":{"x":{"datum":1482364800000,"type":"temporal"},"y":{"datum":1.197}}},
 {"data":{"values":[{}]},"mark":{"type":"text","text":"▮","align":"left","baseline":"middle","font":"DejaVu Sans","fontSize":5,"color":"#888","dx":2},"encoding":{"x":{"datum":1482364800000,"type":"temporal"},"y":{"datum":1.1596}}},
 {"data":{"values":[{}]},"mark":{"type":"text","text":"Volume undef","align":"left","baseline":"middle","font":"DejaVu Sans Mono","fontSize":5.3,"color":"#333","dx":6.5},"encoding":{"x":{"datum":1482364800000,"type":"temporal"},"y":{"datum":1.1596}}},
 {"data":{"values":[{}]},"mark":{"type":"point","shape":"M-1,-0.37H1V0.37H-1Z","size":196,"filled":true,"fill":"white","stroke":"#e5506a","strokeWidth":0.7,"opacity":1,"xOffset":11},"encoding":{"x":{"datum":1594598400000,"type":"temporal"},"y":{"datum":0.64}}},
 {"data":{"values":[{}]},"mark":{"type":"text","text":"0.64","align":"center","baseline":"middle","font":"Liberation Sans","fontSize":5,"color":"#222","dx":11},"encoding":{"x":{"datum":1594598400000,"type":"temporal"},"y":{"datum":0.64}}},
 {"data":{"values":[{}]},"mark":{"type":"point","shape":"M-1,-0.37H1V0.37H-1Z","size":196,"filled":true,"fill":"white","stroke":"#4545c8","strokeWidth":0.7,"opacity":1,"xOffset":11},"encoding":{"x":{"datum":1594598400000,"type":"temporal"},"y":{"datum":0.62}}},
 {"data":{"values":[{}]},"mark":{"type":"text","text":"0.62","align":"center","baseline":"middle","font":"Liberation Sans","fontSize":5,"color":"#222","dx":11},"encoding":{"x":{"datum":1594598400000,"type":"temporal"},"y":{"datum":0.62}}},
 {"data":{"values":[{}]},"mark":{"type":"point","shape":"M-1,-0.37H1V0.37H-1Z","size":196,"filled":true,"fill":"white","stroke":"#222","strokeWidth":0.7,"opacity":1,"xOffset":11},"encoding":{"x":{"datum":1594598400000,"type":"temporal"},"y":{"datum":0.41}}},
 {"data":{"values":[{}]},"mark":{"type":"text","text":"0.41","align":"center","baseline":"middle","font":"Liberation Sans","fontSize":5,"fontWeight":"bold","color":"#111","dx":11},"encoding":{"x":{"datum":1594598400000,"type":"temporal"},"y":{"datum":0.41}}}
]}
]
},
{
"width":480,"height":72,
"data":{"name":"w"},
"resolve":{"axis":{"x":"independent"}},
"layer":[
 {"mark":{"type":"bar","width":2.1,"color":"#3f8fc8"},
  "encoding":{
   "x":{"field":"date","type":"temporal","scale":{"type":"utc","nice":false,"padding":0,"domain":[1482364800000,1595203200000]},
        "axis":{"orient":"bottom","tickCount":{"interval":"month","step":1},"grid":true,"gridColor":"#e4e4e4","gridWidth":0.7,"labelExpr":"indexof(['2017-02','2017-12','2018-01','2018-11','2019-01','2019-06','2020-02'], utcFormat(datum.value, '%Y-%m')) >= 0 ? '' : utcFormat(datum.value, '%b')","labelPadding":1.5,"labelOffset":3}},
   "y":{"field":"hist","type":"quantitative","scale":{"domain":[-0.0559,0.0672],"nice":false,"zero":false},
        "axis":{"orient":"right","values":[-0.04,-0.02,0,0.02,0.04,0.06],"format":".2f","grid":true,"labelPadding":3}},
   "y2":{"datum":0}}},
 {"mark":{"type":"line","color":"#f05050","strokeWidth":0.9},"encoding":{"x":{"field":"date","type":"temporal","axis":null},"y":{"field":"signal","type":"quantitative"}}},
 {"mark":{"type":"line","color":"#000000","strokeWidth":1},
  "encoding":{
   "x":{"field":"date","type":"temporal",
        "axis":{"orient":"bottom","tickCount":{"interval":"year","step":1},"grid":true,"gridColor":"#cfcfcf","gridWidth":0.8,"labelExpr":"utcFormat(datum.value, '%Y')","labelFontWeight":"bold","labelFontSize":5.5,"labelPadding":6,"labelColor":"#111"}},
   "y":{"field":"macd","type":"quantitative"}}},
 {"data":{"values":[{}]},"mark":{"type":"text","text":"▬","align":"left","baseline":"middle","font":"DejaVu Sans","fontSize":5,"color":"#000","dx":1.5},"encoding":{"x":{"datum":1482364800000,"type":"temporal","axis":null},"y":{"datum":0.0604}}},
 {"data":{"values":[{}]},"mark":{"type":"text","text":"MACD(12,26,9) -0.050,","align":"left","baseline":"middle","font":"DejaVu Sans Mono","fontSize":5.3,"color":"#111","dx":7},"encoding":{"x":{"datum":1482364800000,"type":"temporal","axis":null},"y":{"datum":0.0604}}},
 {"data":{"values":[{}]},"mark":{"type":"text","text":"-0.030,","align":"left","baseline":"middle","font":"DejaVu Sans Mono","fontSize":5.3,"color":"#f05050","dx":77.2},"encoding":{"x":{"datum":1482364800000,"type":"temporal","axis":null},"y":{"datum":0.0604}}},
 {"data":{"values":[{}]},"mark":{"type":"text","text":"-0.020","align":"left","baseline":"middle","font":"DejaVu Sans Mono","fontSize":5.3,"color":"#47a3e0","dx":102.7},"encoding":{"x":{"datum":1482364800000,"type":"temporal","axis":null},"y":{"datum":0.0604}}},
 {"data":{"values":[{}]},"mark":{"type":"point","shape":"M-1,-0.37H1V0.37H-1Z","size":256,"filled":true,"fill":"white","stroke":"#47a3e0","strokeWidth":0.7,"opacity":1,"xOffset":12},"encoding":{"x":{"datum":1594598400000,"type":"temporal","axis":null},"y":{"datum":-0.02}}},
 {"data":{"values":[{}]},"mark":{"type":"text","text":"-0.020","align":"center","baseline":"middle","font":"Liberation Sans","fontSize":5,"color":"#222","dx":12},"encoding":{"x":{"datum":1594598400000,"type":"temporal","axis":null},"y":{"datum":-0.02}}},
 {"data":{"values":[{}]},"mark":{"type":"point","shape":"M-1,-0.37H1V0.37H-1Z","size":256,"filled":true,"fill":"white","stroke":"#f05050","strokeWidth":0.7,"opacity":1,"xOffset":12},"encoding":{"x":{"datum":1594598400000,"type":"temporal","axis":null},"y":{"datum":-0.03}}},
 {"data":{"values":[{}]},"mark":{"type":"text","text":"-0.030","align":"center","baseline":"middle","font":"Liberation Sans","fontSize":5,"color":"#222","dx":12},"encoding":{"x":{"datum":1594598400000,"type":"temporal","axis":null},"y":{"datum":-0.03}}},
 {"data":{"values":[{}]},"mark":{"type":"point","shape":"M-1,-0.37H1V0.37H-1Z","size":256,"filled":true,"fill":"white","stroke":"#222","strokeWidth":0.7,"opacity":1,"xOffset":12},"encoding":{"x":{"datum":1594598400000,"type":"temporal","axis":null},"y":{"datum":-0.05}}},
 {"data":{"values":[{}]},"mark":{"type":"text","text":"-0.050","align":"center","baseline":"middle","font":"Liberation Sans","fontSize":5,"color":"#222","dx":12},"encoding":{"x":{"datum":1594598400000,"type":"temporal","axis":null},"y":{"datum":-0.05}}}
]
}
]
}
